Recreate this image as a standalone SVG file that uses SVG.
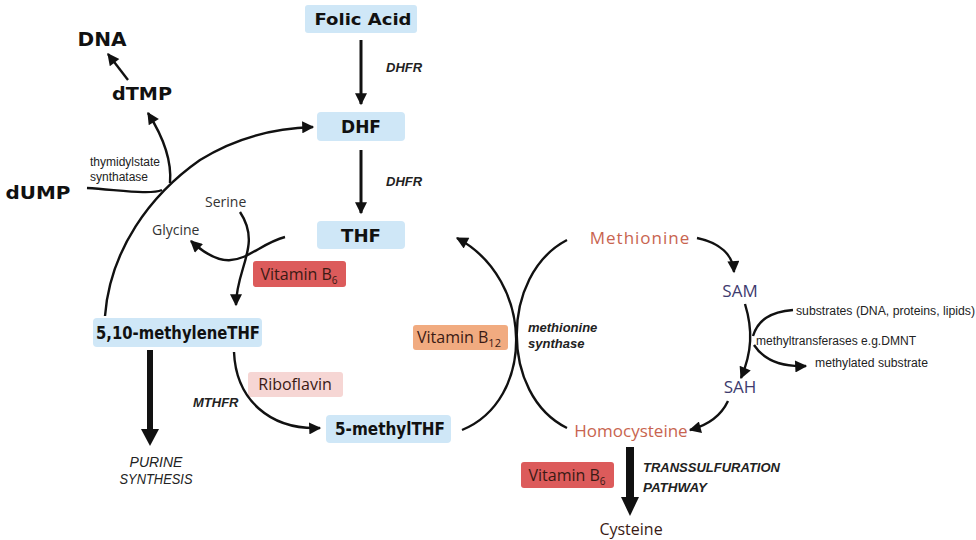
<svg xmlns="http://www.w3.org/2000/svg" width="976" height="540" viewBox="0 0 976 540">
<style>
.box{fill:#cfe7f7}
.bt{font-family:"DejaVu Sans","Liberation Sans",Arial,sans-serif;font-weight:bold;fill:#111;text-anchor:middle}
.en{font-family:"Liberation Sans",Arial,sans-serif;font-style:italic;font-size:13px;fill:#222;font-weight:bold}
.it{font-family:"Liberation Sans",Arial,sans-serif;font-style:italic;font-size:14px;fill:#222;text-anchor:middle}
.sm{font-family:"Liberation Sans",Arial,sans-serif;font-size:12px;fill:#222}
.os{font-family:"Open Sans","Liberation Sans",sans-serif;fill:#333}
.vt{font-family:"Open Sans","Liberation Sans",sans-serif;font-size:16px;fill:#3a1a14;text-anchor:middle}
.met{font-family:"Open Sans","Liberation Sans",sans-serif;font-size:17px;fill:#c8644f;text-anchor:middle}
.sa{font-family:"Open Sans","Liberation Sans",sans-serif;font-size:17px;fill:#3e3b6e;text-anchor:middle}
.ln{fill:none;stroke:#111;stroke-width:2.4}
</style>
<defs>
<marker id="a" viewBox="0 0 10 10" refX="9" refY="5" markerWidth="14" markerHeight="12" orient="auto" markerUnits="userSpaceOnUse">
<path d="M0,0 L10,5 L0,10 z" fill="#111"/>
</marker>
</defs>

<g id="folic"><rect class="box" x="305" y="5" width="112" height="28" rx="3"/><text class="bt" x="363" y="25" font-size="16" textLength="97" lengthAdjust="spacingAndGlyphs">Folic Acid</text></g>
<g id="dhf"><rect class="box" x="317" y="112" width="88" height="29" rx="4"/><text class="bt" x="361" y="133" font-size="17" textLength="40" lengthAdjust="spacingAndGlyphs">DHF</text></g>
<g id="thf"><rect class="box" x="317" y="221" width="88" height="28" rx="4"/><text class="bt" x="361" y="242" font-size="17" textLength="40" lengthAdjust="spacingAndGlyphs">THF</text></g>
<g id="methylene"><rect class="box" x="93" y="318" width="169" height="29" rx="4"/><text class="bt" x="178" y="339" font-size="17" textLength="164" lengthAdjust="spacingAndGlyphs">5,10-methyleneTHF</text></g>
<g id="methylthf"><rect class="box" x="326" y="415" width="125" height="28" rx="4"/><text class="bt" x="390" y="435" font-size="17" textLength="110" lengthAdjust="spacingAndGlyphs">5-methylTHF</text></g>
<g id="dna"><text class="bt" x="102" y="46" font-size="20" textLength="49" lengthAdjust="spacingAndGlyphs">DNA</text></g>
<g id="dtmp"><text class="bt" x="142" y="100" font-size="17" textLength="60" lengthAdjust="spacingAndGlyphs">dTMP</text></g>
<g id="dump"><text class="bt" x="38" y="199" font-size="17" textLength="65" lengthAdjust="spacingAndGlyphs">dUMP</text></g>
<g id="serine"><text class="os" x="205" y="207" font-size="14">Serine</text></g>
<g id="glycine"><text class="os" x="152" y="235" font-size="14">Glycine</text></g>
<g id="vitb6a"><rect x="253" y="261" width="93" height="26" rx="3" fill="#dc5b5b"/><text class="vt" x="299" y="280">Vitamin B<tspan font-size="10" dy="4">6</tspan></text></g>
<g id="ribo"><rect x="248" y="372" width="95" height="25" rx="3" fill="#f6d6d4"/><text class="vt" x="295" y="390" font-size="17">Riboflavin</text></g>
<g id="vitb12"><rect x="413" y="325" width="95" height="25" rx="3" fill="#f1ab80"/><text class="vt" x="459" y="343">Vitamin B<tspan font-size="11" dy="4">12</tspan></text></g>
<g id="methionine"><text class="met" x="640" y="244" letter-spacing="1">Methionine</text></g>
<g id="sam"><text class="sa" x="740" y="297">SAM</text></g>
<g id="sah"><text class="sa" x="740" y="393">SAH</text></g>
<g id="homocysteine"><text class="met" x="631" y="437">Homocysteine</text></g>
<g id="vitb6b"><rect x="521" y="462" width="93" height="26" rx="3" fill="#dc5b5b"/><text class="vt" x="567" y="481">Vitamin B<tspan font-size="10" dy="4">6</tspan></text></g>
<g id="cysteine"><text class="vt" x="631" y="535" fill="#222" font-size="17">Cysteine</text></g>
<g id="purine"><text class="it" x="156" y="467">PURINE</text><text class="it" x="156" y="484" textLength="73" lengthAdjust="spacingAndGlyphs">SYNTHESIS</text></g>

<g id="labels">
<text class="en" x="386" y="72">DHFR</text>
<text class="en" x="386" y="186">DHFR</text>
<text class="sm" x="90" y="166">thymidylstate</text>
<text class="sm" x="90" y="181">synthatase</text>
<text class="en" x="193" y="407">MTHFR</text>
<text class="en" x="528" y="332">methionine</text>
<text class="en" x="528" y="348">synthase</text>
<text class="sm" x="796" y="315" textLength="179" lengthAdjust="spacingAndGlyphs">substrates (DNA, proteins, lipids)</text>
<text class="sm" x="756" y="345" font-size="11" textLength="160" lengthAdjust="spacingAndGlyphs">methyltransferases e.g.DMNT</text>
<text class="sm" x="815" y="367" textLength="113" lengthAdjust="spacingAndGlyphs">methylated substrate</text>
<text class="en" x="643" y="472" font-size="14" textLength="137" lengthAdjust="spacingAndGlyphs">TRANSSULFURATION</text>
<text class="en" x="643" y="492" font-size="14" textLength="64" lengthAdjust="spacingAndGlyphs">PATHWAY</text>
</g>

<g id="connectors">
<path class="ln" style="stroke-width:3" d="M361,40 L361,104" marker-end="url(#a)"/>
<path class="ln" style="stroke-width:3" d="M361,150 L361,213" marker-end="url(#a)"/>
<path class="ln" d="M128,80 L108,54" marker-end="url(#a)"/>
<path class="ln" d="M105,316 C110,250 150,195 200,160 C240,135 280,128 313,127" marker-end="url(#a)"/>
<path class="ln" d="M87,188 C120,190 150,195 162,190"/>
<path class="ln" d="M170,183 C172,160 162,135 148,113" marker-end="url(#a)"/>
<path class="ln" d="M285,237 C250,246 235,282 191,241" marker-end="url(#a)"/>
<path class="ln" d="M240,212 C262,245 236,268 236,305" marker-end="url(#a)"/>
<path class="ln" style="stroke-width:6" d="M150,350 L150,432"/>
<path d="M141,429 L159,429 L150,446 z" fill="#111"/>
<path class="ln" d="M234,352 C236,400 270,430 320,428" marker-end="url(#a)"/>
<path class="ln" d="M462,430 C535,400 535,280 457,238" marker-end="url(#a)"/>
<path class="ln" d="M567,240 C500,275 500,395 567,428"/>
<path class="ln" d="M697,238 C720,243 733,255 734,272" marker-end="url(#a)"/>
<path class="ln" d="M745,304 C753,330 752,352 741,378" marker-end="url(#a)"/>
<path class="ln" d="M793,310 C770,312 758,320 753,336"/>
<path class="ln" d="M754,345 C765,362 785,367 806,366" marker-end="url(#a)"/>
<path class="ln" d="M728,401 C720,418 705,426 690,430" marker-end="url(#a)"/>
<path class="ln" style="stroke-width:8" d="M630,447 L630,500"/>
<path d="M621,497 L639,497 L630,516 z" fill="#111"/>
</g>
</svg>
